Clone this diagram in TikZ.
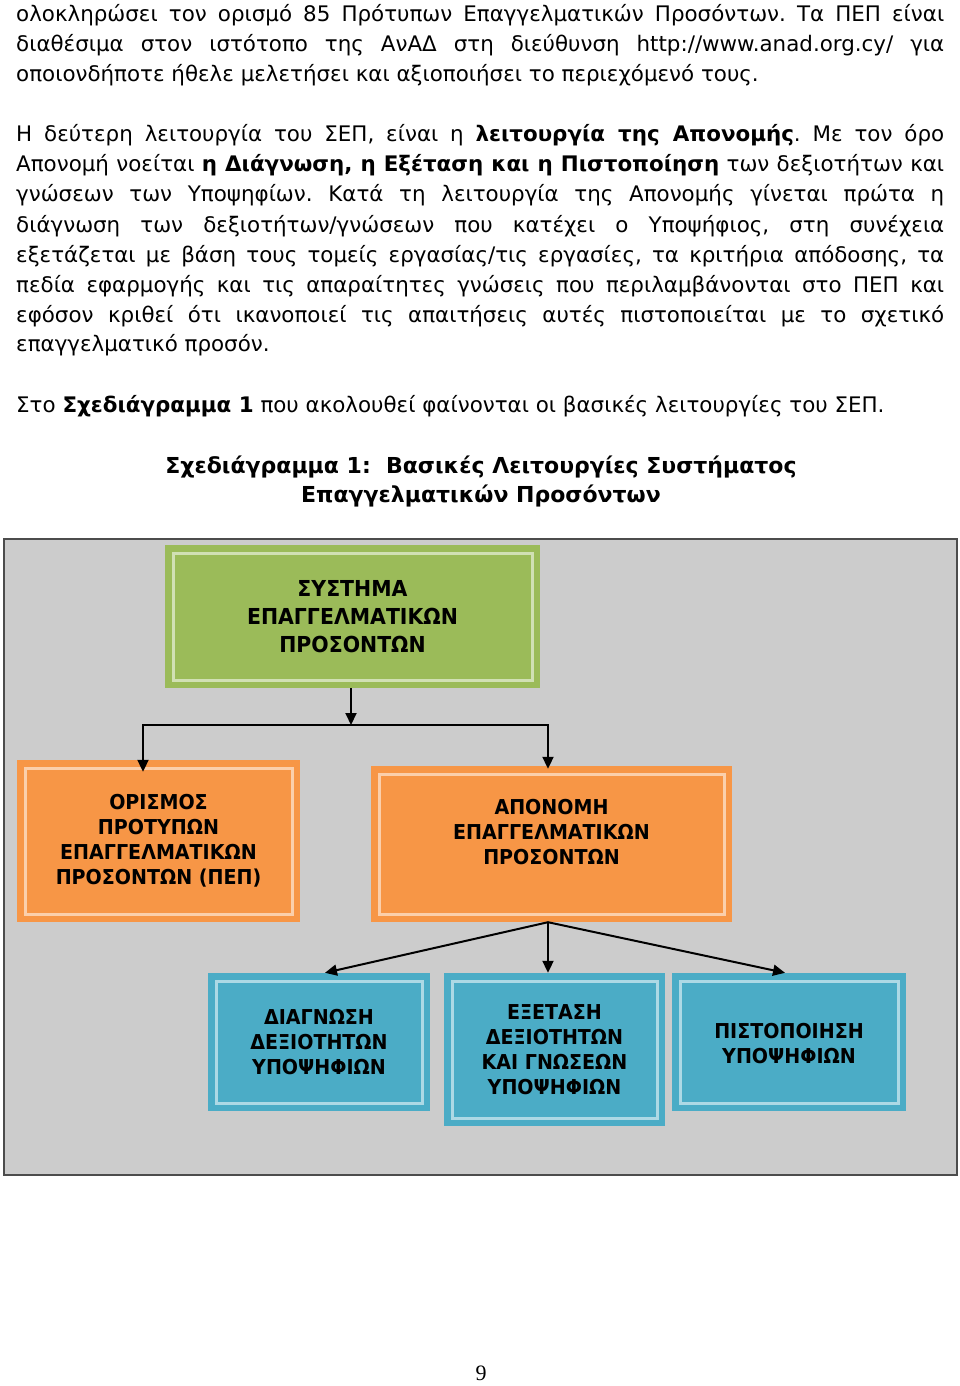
\documentclass[tikz,border=0pt]{standalone}
\usepackage{fontspec}
\setmainfont{DejaVu Sans}
\newfontfamily\boxfont{DejaVu Sans}[FakeStretch=0.93]
\newfontfamily\pagenumfont{Liberation Serif}
\usetikzlibrary{positioning,arrows.meta}

\definecolor{framegray}{HTML}{CCCCCC}
\definecolor{boxgreen}{HTML}{9BBB59}
\definecolor{boxorange}{HTML}{F79646}
\definecolor{boxblue}{HTML}{4BACC6}

\tikzset{
  bodytext/.style={anchor=base west, inner sep=0pt, text width=928pt, align=justify,
    font=\fontsize{21.4}{30}\selectfont},
  framedbox/.style={inner sep=0pt, align=center, font=\boxfont\bfseries\fontsize{20.5}{25}\selectfont,
    path picture={\draw[white, opacity=0.55, line width=3pt]
      ([shift={(8pt,-8pt)}]path picture bounding box.north west) rectangle
      ([shift={(-8pt,8pt)}]path picture bounding box.south east);}},
  greenbox/.style={framedbox, fill=boxgreen, font=\boxfont\bfseries\fontsize{22}{28}\selectfont},
  orangebox/.style={framedbox, fill=boxorange},
  bluebox/.style={framedbox, fill=boxblue},
  link/.style={-{Triangle[length=12pt,width=11pt]}, line width=2pt},
}

\begin{document}
\begin{tikzpicture}[x=1pt, y=-1pt]
  \useasboundingbox[fill=white] (0,0) rectangle (960,1386);
  \frenchspacing \hyphenpenalty=10000 \tolerance=10000 \emergencystretch=20pt

  % Text of the page
  \node[bodytext] (para1) at (16,22) {ολοκληρώσει τον ορισμό 85 Πρότυπων Επαγγελματικών Προσόντων. Τα ΠΕΠ είναι\linebreak
    διαθέσιμα στον ιστότοπο της ΑνΑΔ στη διεύθυνση http://www.anad.org.cy/ για\linebreak
    οποιονδήποτε ήθελε μελετήσει και αξιοποιήσει το περιεχόμενό τους.};
  \node[bodytext] (para2) at (16,142) {Η δεύτερη λειτουργία του ΣΕΠ, είναι η \textbf{λειτουργία της Απονομής}. Με τον όρο\linebreak
    Απονομή νοείται \textbf{η Διάγνωση, η Εξέταση και η Πιστοποίηση} των δεξιοτήτων και\linebreak
    γνώσεων των Υποψηφίων. Κατά τη λειτουργία της Απονομής γίνεται πρώτα η\linebreak
    διάγνωση των δεξιοτήτων/γνώσεων που κατέχει ο Υποψήφιος, στη συνέχεια\linebreak
    εξετάζεται με βάση τους τομείς εργασίας/τις εργασίες, τα κριτήρια απόδοσης, τα\linebreak
    πεδία εφαρμογής και τις απαραίτητες γνώσεις που περιλαμβάνονται στο ΠΕΠ και\linebreak
    εφόσον κριθεί ότι ικανοποιεί τις απαιτήσεις αυτές πιστοποιείται με το σχετικό\linebreak
    επαγγελματικό προσόν.};
  \node[bodytext] (para3) at (16,412) {Στο \textbf{Σχεδιάγραμμα 1} που ακολουθεί φαίνονται οι βασικές λειτουργίες του ΣΕΠ.};

  % Title of the chart
  \node[anchor=base, align=center, inner sep=0pt, font=\bfseries\fontsize{22}{29}\selectfont] (title) at (481,502)
    {Σχεδιάγραμμα 1:\ \ Βασικές Λειτουργίες Συστήματος\\Επαγγελματικών Προσόντων};

  % Chart frame
  \draw[draw=black!70, line width=1.5pt, fill=framegray] (4,539) rectangle (957,1175);

  % Boxes
  \node[greenbox, minimum width=375pt, minimum height=143pt] (system) at (352.5,616.5)
    {ΣΥΣΤΗΜΑ\\ΕΠΑΓΓΕΛΜΑΤΙΚΩΝ\\ΠΡΟΣΟΝΤΩΝ};
  \node[orangebox, minimum width=283pt, minimum height=162pt] (standards) at (158.5,841)
    {ΟΡΙΣΜΟΣ\\ΠΡΟΤΥΠΩΝ\\ΕΠΑΓΓΕΛΜΑΤΙΚΩΝ\\ΠΡΟΣΟΝΤΩΝ (ΠΕΠ)};
  \node[orangebox, minimum width=361pt, minimum height=156pt] (award) at (551.5,844)
    {ΑΠΟΝΟΜΗ\\ΕΠΑΓΓΕΛΜΑΤΙΚΩΝ\\ΠΡΟΣΟΝΤΩΝ\\[-1pt]\mbox{}};
  \node[bluebox, minimum width=222pt, minimum height=138pt] (diagnosis) at (319,1042)
    {ΔΙΑΓΝΩΣΗ\\ΔΕΞΙΟΤΗΤΩΝ\\ΥΠΟΨΗΦΙΩΝ};
  \node[bluebox, minimum width=221pt, minimum height=153pt] (exam) at (554.5,1049.5)
    {ΕΞΕΤΑΣΗ\\ΔΕΞΙΟΤΗΤΩΝ\\ΚΑΙ ΓΝΩΣΕΩΝ\\ΥΠΟΨΗΦΙΩΝ};
  \node[bluebox, minimum width=234pt, minimum height=138pt] (certify) at (789,1042)
    {\mbox{}\\[-6pt]ΠΙΣΤΟΠΟΙΗΣΗ\\ΥΠΟΨΗΦΙΩΝ};

  % Connections
  \coordinate (split) at (351,725);
  \draw[link] ([xshift=-1.5pt]system.south) -- (split);
  \draw[link] (split) -| ([xshift=-15.5pt,yshift=-12pt]standards.north);
  \draw[link] (split) -| ([xshift=-3.5pt,yshift=-3pt]award.north);
  \draw[link] ([xshift=-3.5pt]award.south) -- ([xshift=6pt]diagnosis.north);
  \draw[link] ([xshift=-3.5pt]award.south) -- ([xshift=-6.5pt]exam.north);
  \draw[link] ([xshift=-3.5pt]award.south) -- ([xshift=-4pt]certify.north);

  % Page number
  \node[font=\pagenumfont\fontsize{22}{22}\selectfont] (pagenum) at (481,1373) {9};
\end{tikzpicture}
\end{document}
